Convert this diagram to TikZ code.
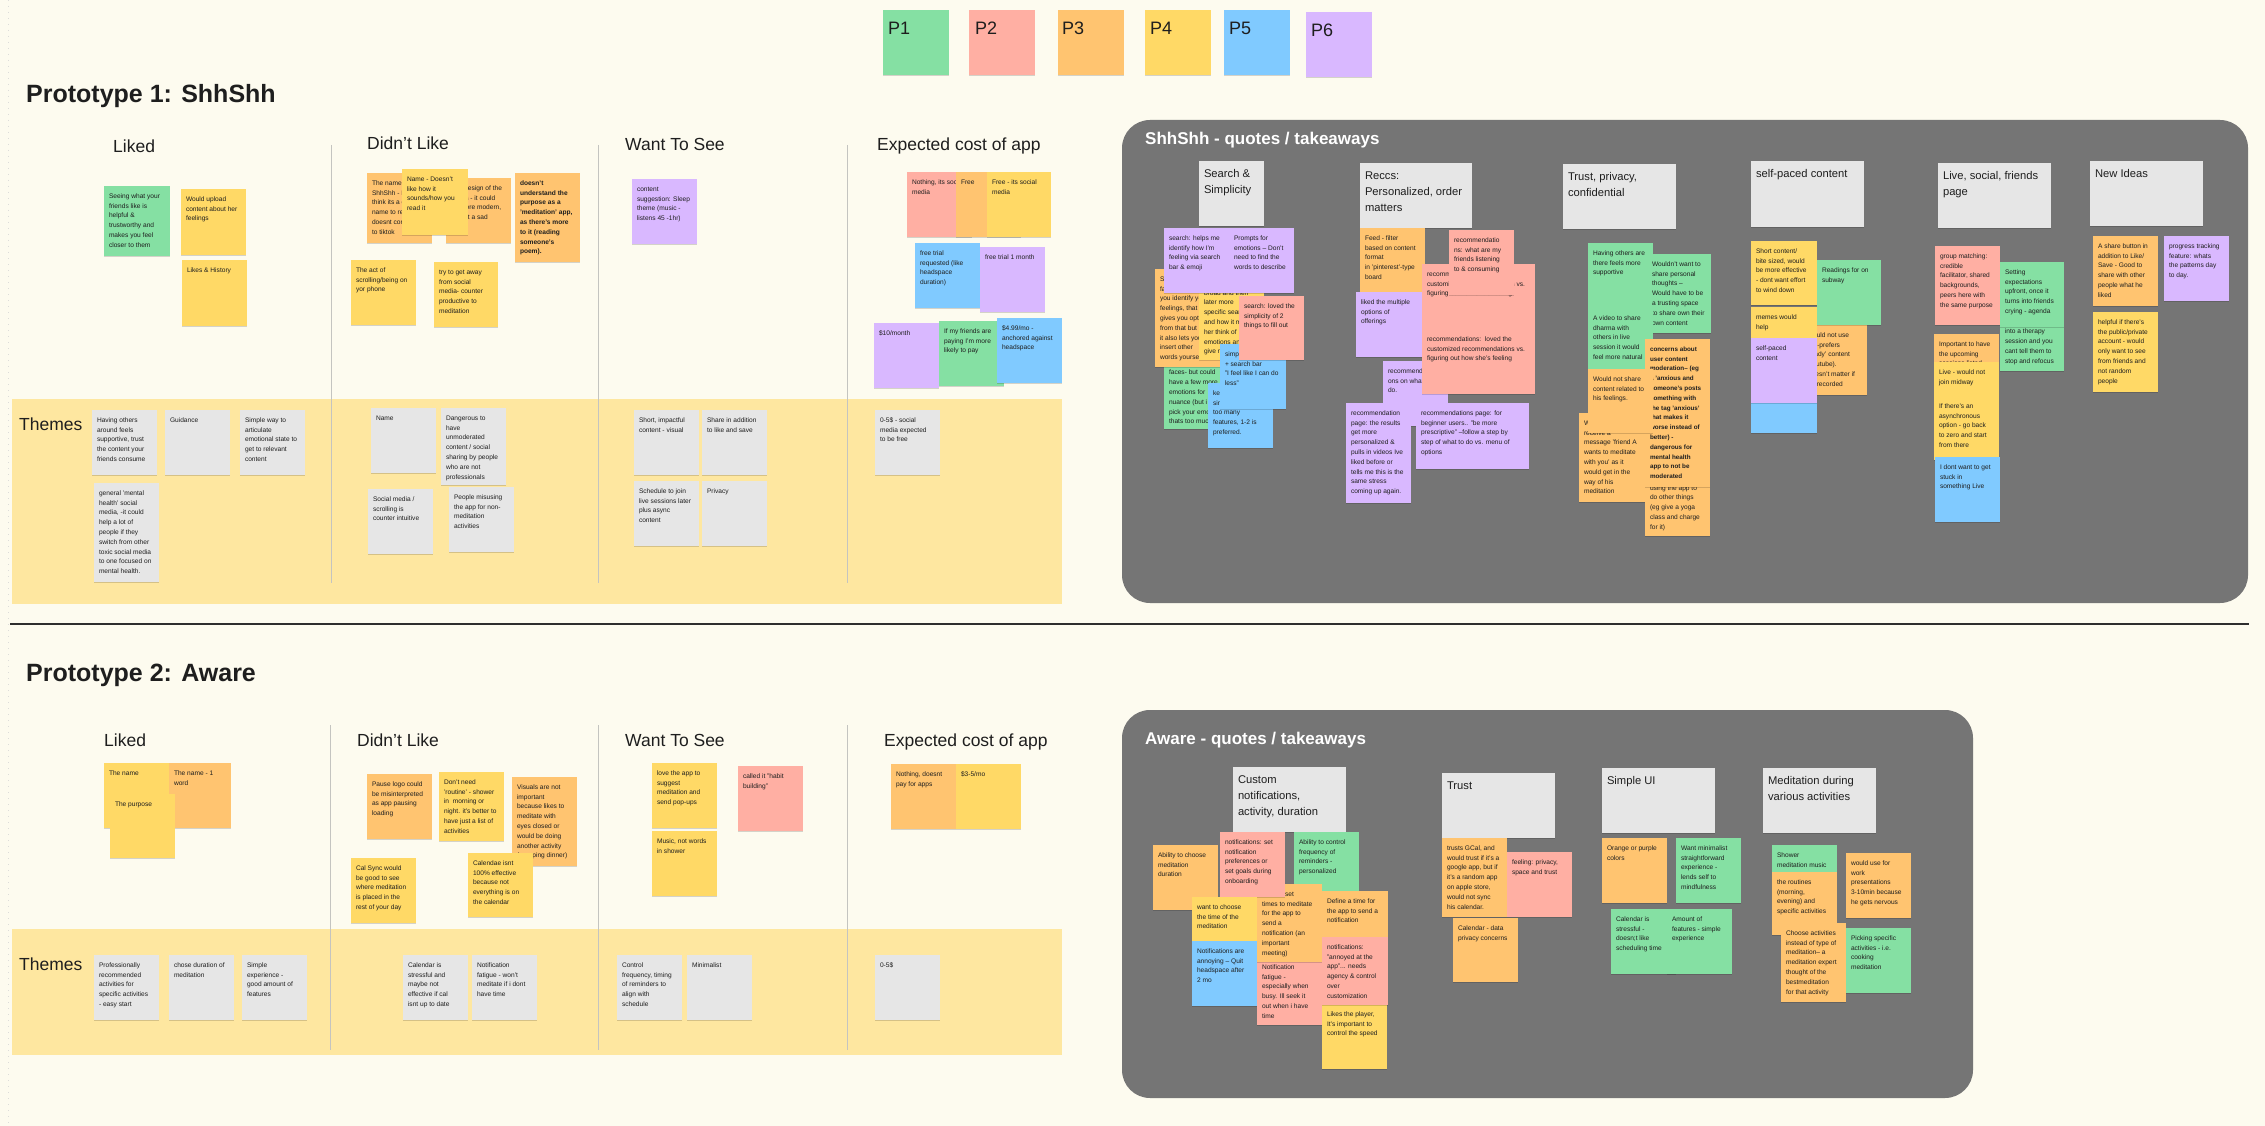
\documentclass[tikz,border=0pt]{standalone}
\usepackage{fontspec}
\setmainfont{Liberation Sans}
\usetikzlibrary{shadows}
\definecolor{bgc}{HTML}{FDFBEF}
\definecolor{ink}{HTML}{1E1E1E}
\definecolor{cG}{HTML}{85E0A3}
\definecolor{cR}{HTML}{FFAFA3}
\definecolor{cO}{HTML}{FFC470}
\definecolor{cY}{HTML}{FFD966}
\definecolor{cB}{HTML}{80CAFF}
\definecolor{cP}{HTML}{D9B8FF}
\definecolor{cW}{HTML}{E6E6E6}
\definecolor{band}{HTML}{FEE7A0}
\definecolor{board}{HTML}{757575}
\definecolor{divc}{HTML}{C4C4C0}
\definecolor{sepc}{HTML}{2E2E2E}
\tikzset{
  stk/.style={anchor=north west, inner xsep=5pt, inner ysep=5.5pt, outer sep=0pt, text=ink,
    font=\fontsize{6.6}{9.8}\selectfont,
    drop shadow={shadow xshift=0.4pt, shadow yshift=-1.2pt, opacity=0.16, fill=black}},
  hstk/.style={stk, fill=cW, font=\fontsize{11.2}{16}\selectfont},
  legbox/.style={anchor=north west, minimum width=66pt, minimum height=65pt, inner sep=0pt, outer sep=0pt,
    drop shadow={shadow xshift=0.4pt, shadow yshift=-1.2pt, opacity=0.16, fill=black}},
  leglab/.style={anchor=base west, inner sep=0pt, text=ink, font=\fontsize{18}{20}\selectfont},
  colhd/.style={anchor=base west, inner sep=0pt, text=ink, font=\fontsize{17.5}{20}\selectfont},
  protohd/.style={anchor=base west, inner sep=0pt, text=ink, font=\fontsize{25}{30}\selectfont\bfseries},
  boardhd/.style={anchor=base west, inner sep=0pt, text=white, font=\fontsize{17}{20}\selectfont\bfseries},
  divline/.style={draw=divc, line width=0.9pt},
}
\newcommand\stk[7]{\node[stk,fill=#6] (#1) at (#2,#3) {\parbox[t][\dimexpr#5pt-11pt\relax][t]{\dimexpr#4pt-10pt\relax}{\raggedright\strut#7}};}
\newcommand\hstk[6]{\node[hstk] (#1) at (#2,#3) {\parbox[t][\dimexpr#5pt-11pt\relax][t]{\dimexpr#4pt-10pt\relax}{\raggedright\strut#6}};}
\begin{document}
\begin{tikzpicture}[x=1pt,y=-1pt]
\useasboundingbox (0,0) rectangle (2265,1126);
\fill[bgc] (0,0) rectangle (2265,1126);
\draw[draw=divc!60, dash pattern=on 1pt off 5pt] (8,0) -- (8,1126);

% ---------- legend ----------
\node[legbox,fill=cG] (p1) at (883,10) {};
\node[legbox,fill=cR] (p2) at (969,10) {};
\node[legbox,fill=cO] (p3) at (1058,10) {};
\node[legbox,fill=cY] (p4) at (1145,10) {};
\node[legbox,fill=cB] (p5) at (1224,10) {};
\node[legbox,fill=cP] (p6) at (1306,12) {};
\node[leglab] (p1t) at (888,35) {P1};
\node[leglab] (p2t) at (975,35) {P2};
\node[leglab] (p3t) at (1062,35) {P3};
\node[leglab] (p4t) at (1150,35) {P4};
\node[leglab] (p5t) at (1229,35) {P5};
\node[leglab] (p6t) at (1311,37) {P6};

% ---------- Prototype 1 ----------
\node[protohd] (pr1) at (26,103) {Prototype 1: ShhShh};
\fill[band] (12,399) rectangle (1062,604);
\draw[divline] (331,145) -- (331,583);
\draw[divline] (598,145) -- (598,583);
\draw[divline] (847,145) -- (847,583);
\node[colhd] (h1a) at (113,153) {Liked};
\node[colhd] (h1b) at (367,150) {Didn't Like};
\node[colhd] (h1c) at (625,151) {Want To See};
\node[colhd] (h1d) at (877,151) {Expected cost of app};
\node[colhd] (th1) at (19,430) {Themes};

\stk{l1a}{104}{186}{66}{70}{cG}{Seeing what your\\friends like is\\helpful \&\\trustworthy and\\makes you feel\\closer to them}
\stk{l1b}{181}{189}{65}{66}{cY}{Would upload\\content about her\\feelings}
\stk{l1c}{182}{260}{65}{66}{cY}{Likes \& History}

\stk{d1a}{367}{173}{65}{70}{cO}{The name\\ShhShh - I\\think its a good\\name to relate\\doesnt connect\\to tiktok}
\stk{d1c}{446}{178}{65}{65}{cO}{The design of the\\things - it could\\be more modern,\\its just a sad\\logo.}
\stk{d1b}{402}{169}{66}{66}{cY}{Name - Doesn't\\like how it\\sounds/how you\\read it}
\stk{d1d}{515}{173}{65}{89}{cO}{\bfseries doesn't\\understand the\\purpose as a\\'meditation' app,\\as there's more\\to it (reading\\someone's\\poem).}
\stk{d1e}{351}{260}{65}{65}{cY}{The act of\\scrolling/being on\\yor phone}
\stk{d1f}{434}{262}{64}{65}{cY}{try to get away\\from social\\media- counter\\productive to\\meditation}

\stk{w1a}{632}{179}{65}{65}{cP}{content\\suggestion: Sleep\\theme (music -\\listens 45 -1hr)}

\stk{e1a}{907}{172}{65}{65}{cR}{Nothing, its social\\media}
\stk{e1b}{956}{172}{65}{65}{cO}{Free}
\stk{e1c}{987}{172}{64}{65}{cY}{Free - its social\\media}
\stk{e1d}{915}{243}{65}{65}{cB}{free trial\\requested (like\\headspace\\duration)}
\stk{e1e}{980}{247}{65}{65}{cP}{free trial 1 month}
\stk{e1f}{874}{323}{65}{65}{cP}{\$10/month}
\stk{e1g}{939}{321}{65}{65}{cG}{If my friends are\\paying I'm more\\likely to pay}
\stk{e1h}{997}{318}{65}{65}{cB}{\$4.99/mo -\\anchored against\\headspace}

\stk{t1a}{92}{410}{65}{65}{cW}{Having others\\around feels\\supportive, trust\\the content your\\friends consume}
\stk{t1b}{165}{410}{65}{65}{cW}{Guidance}
\stk{t1c}{240}{410}{65}{65}{cW}{Simple way to\\articulate\\emotional state to\\get to relevant\\content}
\stk{t1d}{94}{483}{65}{99}{cW}{general 'mental\\health' social\\media, -it could\\help a lot of\\people if they\\switch from other\\toxic social media\\to one focused on\\mental health.}
\stk{t1e}{371}{408}{65}{65}{cW}{Name}
\stk{t1f}{441}{408}{65}{77}{cW}{Dangerous to\\have\\unmoderated\\content / social\\sharing by people\\who are not\\professionals}
\stk{t1g}{368}{489}{65}{65}{cW}{Social media /\\scrolling is\\counter intuitive}
\stk{t1h}{449}{487}{65}{65}{cW}{People misusing\\the app for non-\\meditation\\activities}
\stk{t1i}{634}{410}{65}{65}{cW}{Short, impactful\\content - visual}
\stk{t1j}{702}{410}{65}{65}{cW}{Share in addition\\to like and save}
\stk{t1k}{634}{481}{65}{65}{cW}{Schedule to join\\live sessions later\\plus async\\content}
\stk{t1l}{702}{481}{65}{65}{cW}{Privacy}
\stk{t1m}{875}{410}{65}{65}{cW}{0-5\$ - social\\media expected\\to be free}

% ---------- ShhShh board ----------
\fill[board, rounded corners=28pt] (1122,120) rectangle (2248,603);
\node[boardhd] (bt1) at (1145,145) {ShhShh - quotes / takeaways};
\hstk{hs1}{1199}{161}{65}{65}{Search \&\\Simplicity}
\hstk{hs2}{1360}{163}{112}{65}{Reccs:\\Personalized, order\\matters}
\hstk{hs3}{1563}{164}{113}{65}{Trust, privacy,\\confidential}
\hstk{hs4}{1751}{161}{113}{66}{self-paced content}
\hstk{hs5}{1938}{163}{113}{65}{Live, social, friends\\page}
\hstk{hs6}{2090}{161}{113}{65}{New Ideas}

\stk{s2}{1164}{343}{65}{86}{cG}{Likes the emoji\\and search - the\\faces- but could\\have a few more\\emotions for\\nuance (but i\\pick your emotion\\thats too much)}
\stk{s1}{1155}{269}{65}{98}{cO}{Search by emoji\\faces helps\\you identify your\\feelings, that\\gives you options\\from that but\\it also lets you\\insert other\\words yourself}
\stk{s3}{1199}{273}{65}{87}{cY}{search: could start\\broad and then\\later more\\specific search\\and how it made\\her think of\\emotions and\\give names}
\stk{s4}{1164}{228}{65}{65}{cP}{search: helps me\\identify how I'm\\feeling via search\\bar \& emoji}
\stk{s5}{1229}{228}{65}{65}{cP}{Prompts for\\emotions -- Don't\\need to find the\\words to describe}
\stk{s6}{1208}{383}{65}{65}{cB}{keep it\\simple, not\\too many\\features, 1-2 is\\preferred.}
\stk{s7}{1220}{344}{66}{65}{cB}{simple ui\\+ search bar\\"I feel like I can do\\less"}
\stk{s8}{1239}{296}{65}{64}{cR}{search: loved the\\simplicity of 2\\things to fill out}

\stk{r1}{1360}{228}{65}{64}{cO}{Feed - filter\\based on content\\format\\in 'pinterest'-type\\board}
\stk{r2}{1356}{292}{66}{65}{cP}{liked the multiple\\options of\\offerings}
\stk{r3}{1383}{361}{65}{65}{cP}{recommendati\\ons on what to\\do.}
\stk{r4}{1422}{264}{113}{65}{cR}{recommendations:\ \ loved the\\customized recommendations vs.\\figuring out how she's feeling}
\stk{r5}{1422}{329}{113}{65}{cR}{recommendations:\ \ loved the\\customized recommendations vs.\\figuring out how she's feeling}
\stk{r6}{1449}{230}{65}{65}{cR}{recommendatio\\ns: what are my\\friends listening\\to \& consuming}
\stk{r7}{1346}{403}{65}{100}{cP}{recommendation\\page: the results\\get more\\personalized \&\\pulls in videos Ive\\liked before or\\tells me this is the\\same stress\\coming up again.}
\stk{r8}{1416}{403}{113}{66}{cP}{recommendations page: for\\beginner users.. "be more\\prescriptive" --follow a step by\\step of what to do vs. menu of\\options}

\stk{tr1}{1588}{243}{65}{65}{cG}{Having others are\\there feels more\\supportive}
\stk{tr3}{1647}{254}{64}{79}{cG}{Wouldn't want to\\share personal\\thoughts --\\Would have to be\\a trusting space\\to share own their\\own content}
\stk{tr2}{1588}{308}{65}{61}{cG}{A video to share\\dharma with\\others in live\\session it would\\feel more natural}
\stk{tr7}{1645}{468}{65}{68}{cO}{Concerns people\\using the app to\\do other things\\(eg give a yoga\\class and charge\\for it)}
\stk{tr5}{1645}{339}{65}{148}{cO}{{\fontsize{6.3}{9.8}\selectfont\bfseries concerns about\\user content\\moderation-- (eg\\a 'anxious and\\someone's posts\\something with\\the tag 'anxious'\\that makes it\\worse instead of\\better) -\\dangerous for\\mental health\\app to not be\\moderated}}
\stk{tr6}{1579}{413}{66}{89}{cO}{Wouldn't want to\\receive a\\message 'friend A\\wants to meditate\\with you' as it\\would get in the\\way of his\\meditation}
\stk{tr4}{1588}{369}{65}{64}{cO}{Would not share\\content related to\\his feelings.}

\stk{sp1}{1751}{241}{66}{64}{cY}{Short content/\\bite sized, would\\be more effective\\- dont want effort\\to wind down}
\stk{sp3}{1802}{325}{65}{70}{cO}{Would not use\\YT -prefers\\'ready' content\\(youtube).\\Doesn't matter if\\it's recorded}
\stk{sp2}{1817}{260}{64}{65}{cG}{Readings for on\\subway}
\stk{sp4}{1751}{307}{66}{65}{cY}{memes would\\help}
\stk{sp6}{1751}{368}{66}{65}{cB}{}
\stk{sp5}{1751}{338}{66}{65}{cP}{self-paced\\content}

\stk{ls1}{1935}{246}{65}{79}{cR}{group matching:\\credible\\facilitator, shared\\backgrounds,\\peers here with\\the same purpose}
\stk{ls3}{2000}{302}{64}{69}{cG}{It gets weird\\when it turns\\into a therapy\\session and you\\cant tell them to\\stop and refocus}
\stk{ls2}{2000}{262}{64}{65}{cG}{Setting\\expectations\\upfront, once it\\turns into friends\\crying - agenda}
\stk{ls4}{1934}{334}{65}{65}{cO}{Important to have\\the upcoming\\sessions listed}
\stk{ls5}{1934}{362}{65}{65}{cY}{Live - would not\\join midway}
\stk{ls6}{1934}{396}{65}{64}{cY}{If there's an\\asynchronous\\option - go back\\to zero and start\\from there}
\stk{ls7}{1935}{457}{65}{65}{cB}{I dont want to get\\stuck in\\something Live}

\stk{n1}{2093}{236}{65}{70}{cO}{A share button in\\addition to Like/\\Save - Good to\\share with other\\people what he\\liked}
\stk{n2}{2164}{236}{65}{65}{cP}{progress tracking\\feature: whats\\the patterns day\\to day.}
\stk{n3}{2093}{312}{65}{80}{cY}{helpful if there's\\the public/private\\account - would\\only want to see\\from friends and\\not random\\people}

% ---------- separator ----------
\draw[sepc, line width=1.4pt] (10,624) -- (2249,624);

% ---------- Prototype 2 ----------
\node[protohd] (pr2) at (26,681) {Prototype 2: Aware};
\fill[band] (12,929) rectangle (1062,1055);
\draw[divline] (330,725) -- (330,1050);
\draw[divline] (598,725) -- (598,1050);
\draw[divline] (847,725) -- (847,1050);
\node[colhd] (h2a) at (104,746) {Liked};
\node[colhd] (h2b) at (357,746) {Didn't Like};
\node[colhd] (h2c) at (625,746) {Want To See};
\node[colhd] (h2d) at (884,746) {Expected cost of app};
\node[colhd] (th2) at (19,970) {Themes};

\stk{l2a}{104}{763}{65}{65}{cY}{The name}
\stk{l2b}{169}{763}{62}{65}{cO}{The name - 1\\word}
\stk{l2c}{110}{794}{65}{64}{cY}{The purpose}

\stk{d2a}{367}{774}{65}{65}{cO}{Pause logo could\\be misinterpreted\\as app pausing\\loading}
\stk{d2b}{439}{772}{65}{69}{cY}{Don't need\\'routine' - shower\\in\ \ morning or\\night. it's better to\\have just a list of\\activities}
\stk{d2c}{512}{777}{65}{89}{cO}{Visuals are not\\important\\because likes to\\meditate with\\eyes closed or\\would be doing\\another activity\\(prepping dinner)}
\stk{d2d}{351}{858}{65}{65}{cY}{Cal Sync would\\be good to see\\where meditation\\is placed in the\\rest of your day}
\stk{d2e}{468}{853}{65}{64}{cY}{Calendae isnt\\100\% effective\\because not\\everything is on\\the calendar}

\stk{w2a}{652}{763}{65}{65}{cY}{love the app to\\suggest\\meditation and\\send pop-ups}
\stk{w2b}{652}{831}{65}{65}{cY}{Music, not words\\in shower}
\stk{w2c}{738}{766}{65}{65}{cR}{called it "habit\\building"}

\stk{e2a}{891}{764}{65}{65}{cO}{Nothing, doesnt\\pay for apps}
\stk{e2b}{956}{764}{65}{65}{cY}{\$3-5/mo}

\stk{t2a}{94}{955}{65}{65}{cW}{Professionally\\recommended\\activities for\\specific activities\\- easy start}
\stk{t2b}{169}{955}{65}{65}{cW}{chose duration of\\meditation}
\stk{t2c}{242}{955}{65}{65}{cW}{Simple\\experience -\\good amount of\\features}
\stk{t2d}{403}{955}{65}{65}{cW}{Calendar is\\stressful and\\maybe not\\effective if cal\\isnt up to date}
\stk{t2e}{472}{955}{65}{65}{cW}{Notification\\fatigue - won't\\meditate if i dont\\have time}
\stk{t2f}{617}{955}{65}{65}{cW}{Control\\frequency, timing\\of reminders to\\align with\\schedule}
\stk{t2g}{687}{955}{65}{65}{cW}{Minimalist}
\stk{t2h}{875}{955}{65}{65}{cW}{0-5\$}

% ---------- Aware board ----------
\fill[board, rounded corners=28pt] (1122,710) rectangle (1973,1098);
\node[boardhd] (bt2) at (1145,744) {Aware - quotes / takeaways};
\hstk{ha1}{1233}{767}{113}{65}{Custom\\notifications,\\activity, duration}
\hstk{ha2}{1442}{773}{113}{65}{Trust}
\hstk{ha3}{1602}{768}{113}{65}{Simple UI}
\hstk{ha4}{1763}{768}{113}{65}{Meditation during\\various activities}

\stk{c1}{1153}{845}{65}{65}{cO}{Ability to choose\\meditation\\duration}
\stk{c3}{1294}{832}{65}{65}{cG}{Ability to control\\frequency of\\reminders -\\personalized}
\stk{c9}{1257}{957}{65}{68}{cR}{Notification\\fatigue -\\especially when\\busy. Ill seek it\\out when i have\\time}
\stk{c6}{1257}{884}{65}{78}{cO}{want to set\\times to meditate\\for the app to\\send a\\notification (an\\important\\meeting)}
\stk{c2}{1220}{832}{65}{65}{cR}{notifications: set\\notification\\preferences or\\set goals during\\onboarding}
\stk{c4}{1192}{897}{65}{65}{cY}{want to choose\\the time of the\\meditation}
\stk{c5}{1192}{941}{65}{65}{cB}{Notifications are\\annoying -- Quit\\headspace after\\2 mo}
\stk{c7}{1322}{891}{66}{65}{cO}{Define a time for\\the app to send a\\notification}
\stk{c10}{1322}{1004}{65}{65}{cY}{Likes the player,\\It's important to\\control the speed}
\stk{c8}{1322}{937}{66}{68}{cR}{notifications:\\"annoyed at the\\app"... needs\\agency \& control\\over\\customization}

\stk{tu3}{1453}{918}{65}{64}{cO}{Calendar - data\\privacy concerns}
\stk{tu1}{1442}{838}{65}{79}{cO}{trusts GCal, and\\would trust if it's a\\google app, but if\\it's a random app\\on apple store,\\would not sync\\his calendar.}
\stk{tu2}{1507}{852}{65}{65}{cR}{feeling: privacy,\\space and trust}

\stk{su1}{1602}{838}{65}{65}{cO}{Orange or purple\\colors}
\stk{su2}{1676}{838}{65}{65}{cG}{Want minimalist\\straightforward\\experience -\\lends self to\\mindfulness}
\stk{su3}{1611}{909}{65}{65}{cG}{Calendar is\\stressful -\\doesn;t like\\scheduling time}
\stk{su4}{1667}{909}{65}{65}{cG}{Amount of\\features - simple\\experience}

\stk{m1}{1772}{845}{65}{65}{cG}{Shower\\meditation music}
\stk{m2}{1772}{872}{65}{63}{cO}{the routines\\(morning,\\evening) and\\specific activities}
\stk{m3}{1846}{853}{65}{65}{cO}{would use for\\work\\presentations\\3-10min because\\he gets nervous}
\stk{m5}{1846}{928}{65}{65}{cG}{Picking specific\\activities - i.e.\\cooking\\meditation}
\stk{m4}{1781}{923}{65}{79}{cO}{Choose activities\\instead of type of\\meditation-- a\\meditation expert\\thought of the\\bestmeditation\\for that activity}
\end{tikzpicture}
\end{document}
